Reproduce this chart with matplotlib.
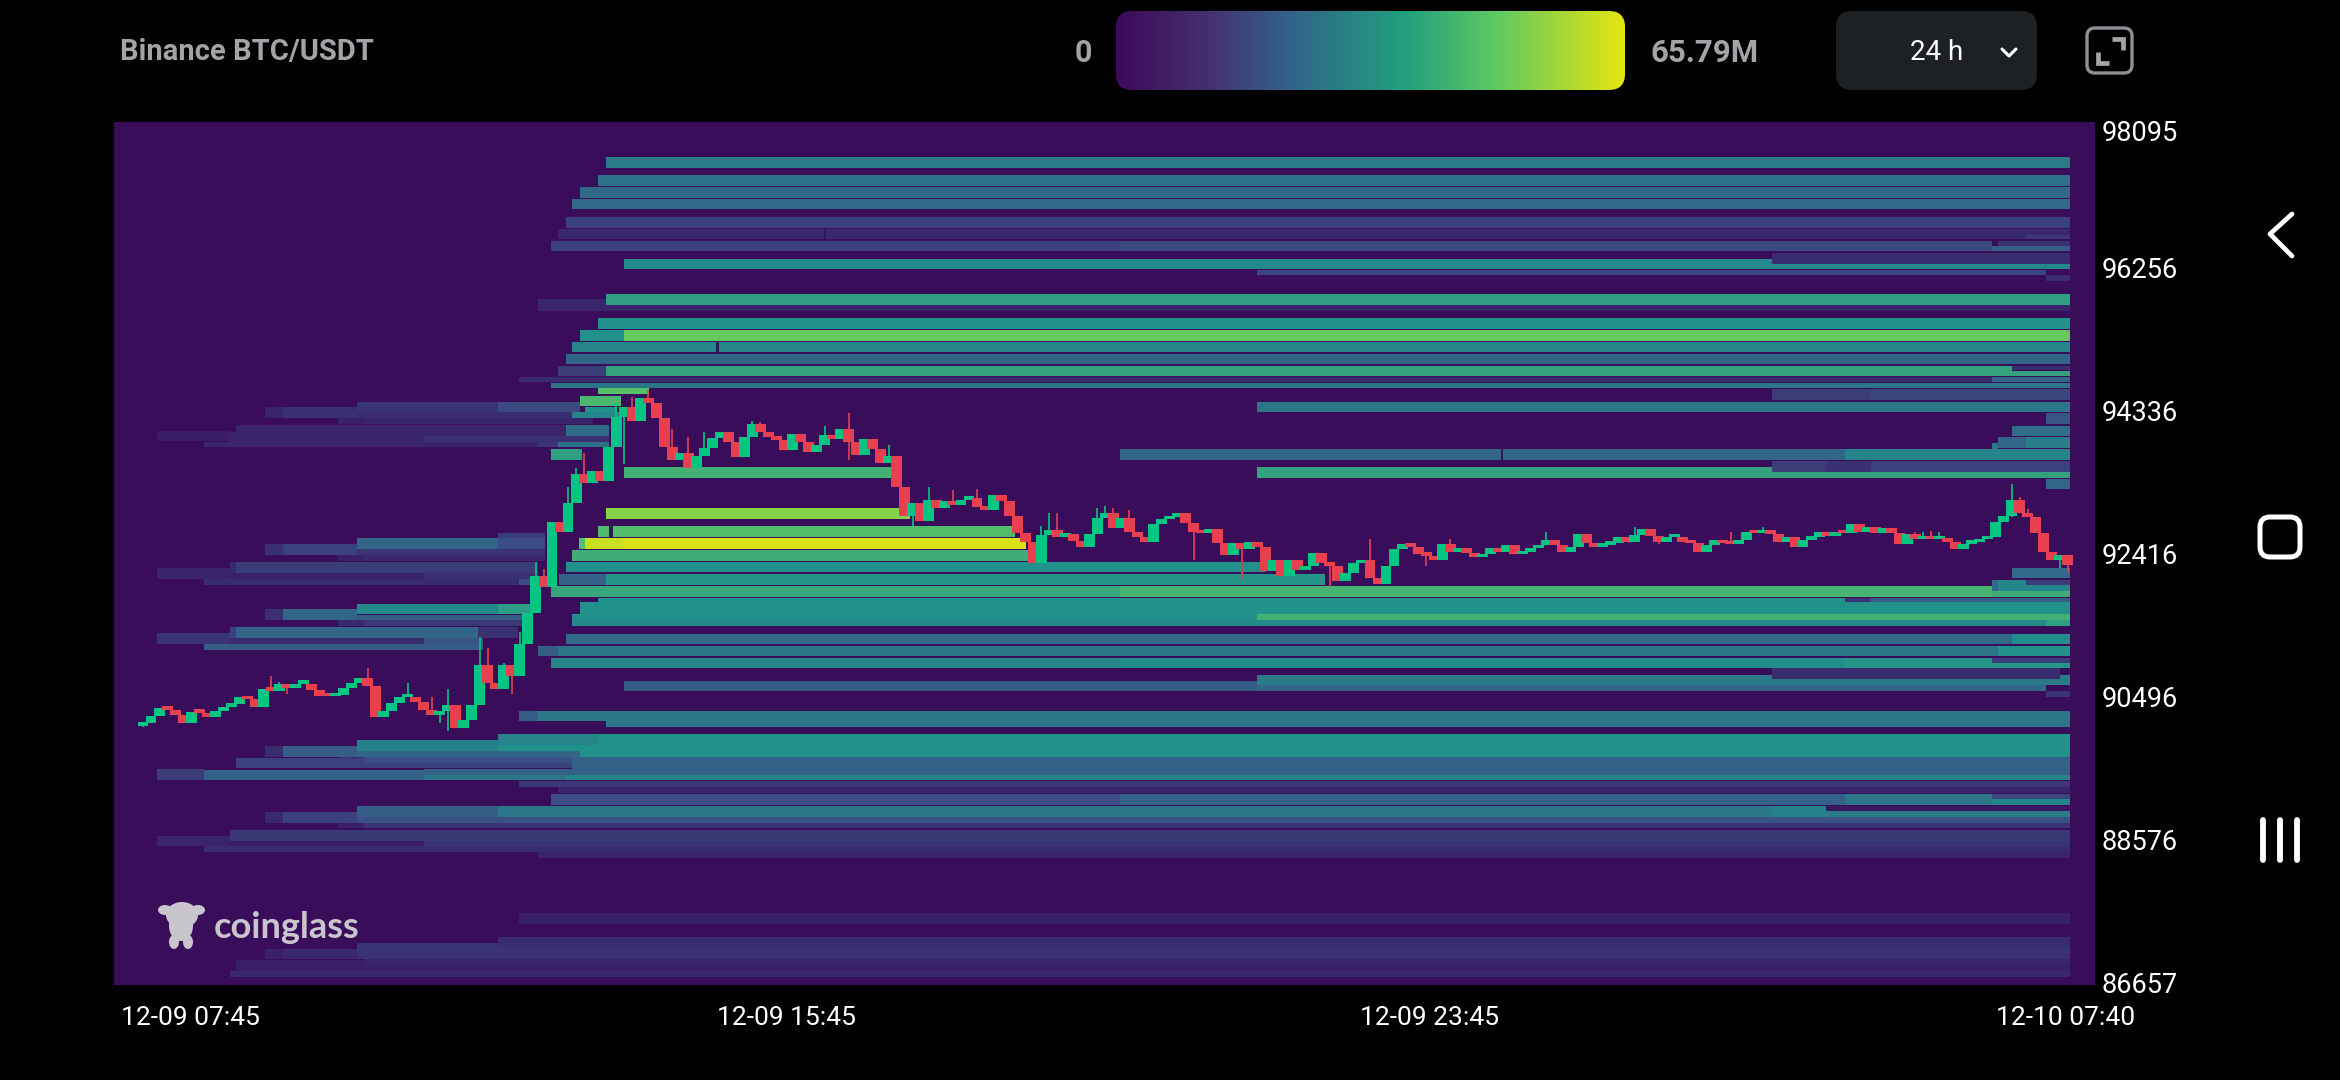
import numpy as np
import matplotlib
matplotlib.use("Agg")
import matplotlib.pyplot as plt
from matplotlib.colors import LinearSegmentedColormap, Normalize
from matplotlib.patches import FancyBboxPatch, Ellipse
from matplotlib.transforms import ScaledTranslation

plt.rcParams['font.family'] = ['Roboto', 'DejaVu Sans']

TITLE = "Binance BTC/USDT"
SCALE_MIN = "0"
SCALE_MAX = "65.79M"
RANGE = "24 h"
MAX_M = 65.79
price_ticks = [98095, 96256, 94336, 92416, 90496, 88576, 86657]
time_ticks = [0, 8, 16, 23.92]
time_labels = ["12-09 07:45", "12-09 15:45", "12-09 23:45", "12-10 07:40"]

E = 23.97
# liquidation bands: price top, price bottom, start hour, end hour, value (M)
bands_upper = [
    (97740,97597,5.76,E,27),(97498,97355,5.66,E,25),(97337,97194,5.44,E,23),(97176,97041,5.34,E,23),
    (96934,96795,5.26,E,13),(96773,96638,5.16,E,7),(96700,96638,23.42,E,11),
    (96611,96477,5.07,12.15,13),(96611,96477,12.15,23.0,15),(96611,96547,23.07,E,10),(96547,96477,23.0,E,20),
    (96374,96235,5.98,20.26,31),(96307,96235,20.26,E,31),(96450,96307,20.26,E,8),
    (96226,96159,13.86,23.67,14),(96159,96083,23.67,E,8),
    (95899,95756,5.76,E,37),(95830,95756,4.91,5.76,6),(95756,95680,4.91,E,6),
    (95576,95437,5.66,E,33),(95420,95276,5.44,5.98,33),(95420,95276,5.98,E,50),
    (95258,95119,5.34,E,30),(95097,94958,5.26,E,22),
    (94936,94801,5.16,5.76,12),(94936,94801,5.76,23.25,38),(94936,94880,23.25,E,8),(94870,94801,23.25,E,38),
    (94792,94721,4.68,23.0,7),(94792,94721,23.0,E,22),(94712,94640,5.07,E,26),
    (94622,94479,20.26,21.49,12),(94622,94479,21.49,E,14),(94457,94322,13.86,E,26),
]
bands_peak = [
    (94636,94560,5.66,6.3,47),(94537,94398,5.44,5.95,44),
    (94457,94318,2.66,4.42,10),(94457,94318,4.42,5.44,15),(94390,94318,5.5,5.9,33),
    (94380,94241,1.52,1.74,6),(94380,94241,1.74,2.66,9),(94313,94241,2.66,5.34,8),(94313,94241,5.34,5.95,30),
    (94233,94160,2.43,2.75,5),(94233,94160,2.75,5.6,6),
    (94139,94000,1.16,5.26,6),(94139,94000,5.26,5.8,24),
    (94062,93923,0.17,1.08,4),(94053,93919,1.08,3.5,6),(94000,93919,3.5,5.8,9),
    (93919,93843,0.76,4.91,6),(93919,93843,4.91,5.16,10),(93919,93843,5.16,5.8,25),
    (93816,93677,5.07,5.46,37),
    (94300,94156,23.67,E,18),(94134,94000,23.25,E,24),(93986,93829,23.42,E,28),(93986,93829,23.07,23.42,22),
    (93896,93762,23.0,23.07,26),(93816,93677,12.15,21.17,22),(93816,93677,21.17,E,30),
    (93663,93516,20.26,20.93,12),(93663,93516,20.93,21.49,9),(93663,93516,21.49,E,13),
    (93578,93435,5.98,9.44,42),(93578,93435,13.86,20.26,38),(93511,93435,20.26,E,38),(93417,93278,23.67,E,22),
]
bands_hot = [
    (93023,92879,5.76,9.54,54),(92785,92642,5.66,5.80,45),(92785,92642,5.82,10.85,46),
    (92629,92476,5.42,5.5,47),(92629,92476,5.5,5.98,62),(92629,92476,5.97,10.98,64),
    (92458,92319,5.34,11.06,41),(92302,92163,5.26,13.97,33),
    (92140,91997,5.17,5.76,21),(92140,91997,5.76,14.70,34),
    (91979,91835,5.07,12.15,39),(91979,91835,12.15,23.0,43),(91917,91835,23.0,E,41),
    (92060,91917,23.0,23.07,23),(92060,91917,23.07,23.42,30),(92060,91993,23.42,E,12),(91993,91917,23.42,E,30),
    (92221,92083,23.25,E,23),
]
bands_left = [
    (92696,92552,4.42,5.0,12),(92620,92476,2.66,4.42,22),(92620,92476,4.42,5.0,16),
    (92543,92400,1.52,1.74,9),(92543,92400,1.74,2.66,13),(92476,92400,2.66,5.0,10),
    (92396,92319,2.43,2.75,5),(92396,92319,2.75,5.0,7),
    (92297,92158,1.08,1.16,7),(92297,92158,1.16,4.91,12),(92216,92073,0.17,1.08,6),
    (92149,92073,1.08,3.5,5),(92149,92073,3.5,4.91,9),(92073,91992,0.76,4.68,8),(92073,91992,4.68,4.91,16),
    (91737,91598,2.66,4.42,31),(91737,91598,4.42,4.82,36),(91665,91522,1.52,1.74,9),(91665,91522,1.74,2.66,22),
    (91589,91522,2.66,4.8,20),(91522,91441,2.43,2.75,7),(91522,91441,2.75,4.8,11),
    (91423,91280,1.08,1.16,13),(91423,91280,1.16,4.17,22),(91423,91280,4.17,4.66,9),
    (91343,91199,0.17,1.08,10),(91276,91199,1.08,3.5,8),(91276,91199,3.5,4.23,18),(91199,91119,0.76,4.23,20),
]
bands_mid = [
    (91823,91760,5.66,21.17,33),(91823,91760,21.17,21.49,10),(91823,91760,21.49,E,20),
    (91760,91599,5.44,E,33),(91599,91523,5.34,13.86,33),(91599,91523,13.86,E,42),
    (91523,91442,5.34,23.67,31),(91523,91442,23.67,E,37),
    (91339,91200,5.26,23.25,23),(91339,91200,23.25,E,32),
    (91178,91039,4.91,5.16,20),(91178,91039,5.16,23.07,26),(91178,91039,23.07,E,33),
    (91016,90882,5.07,12.15,30),(91016,90882,12.15,21.17,32),(91016,90882,21.17,23.0,34),
    (91016,90945,23.0,E,12),(90945,90882,23.0,E,34),
    (90873,90725,20.26,23.84,8),(90783,90707,13.86,20.26,27),
    (90707,90564,5.98,13.86,20),(90707,90564,13.86,23.67,22),
    (90725,90645,20.26,E,27),(90707,90645,13.86,20.26,27),(90564,90484,23.67,E,10),(90783,90645,23.84,E,27),
    (90303,90165,4.68,4.91,20),(90303,90165,4.91,E,26),(90165,90084,5.76,E,26),
]
bands_lower = [
    (89985,89846,4.42,5.66,30),(89985,89846,5.66,E,33),(89909,89766,2.66,4.42,29),(89846,89766,4.42,E,33),
    (89828,89685,1.52,1.74,8),(89828,89685,1.74,2.66,20),(89766,89685,2.66,5.44,22),(89766,89685,5.44,E,33),
    (89685,89605,2.43,2.75,8),(89685,89605,2.75,5.34,17),(89685,89516,5.34,E,21),
    (89663,89528,1.16,2.75,13),(89605,89528,2.75,5.34,13),
    (89520,89372,0.17,0.76,12),(89506,89372,0.76,3.5,21),(89515,89443,3.5,E,21),
    (89443,89367,3.5,5.26,26),(89443,89367,5.26,E,30),(89358,89282,4.68,E,11),(89274,89193,5.16,E,6),
    (89180,89036,5.07,12.15,16),(89180,89036,12.15,21.17,21),(89180,89036,21.17,23.0,26),
    (89180,89117,23.0,E,14),(89117,89036,23.0,E,30),
    (89023,88879,2.66,4.42,20),(89023,88879,4.42,20.26,26),(89023,88879,20.26,20.93,29),
    (89023,88960,20.93,E,3),(88960,88879,20.93,E,27),
    (88937,88798,1.52,1.74,7),(88937,88798,1.74,2.66,13),(88879,88799,2.66,E,17),
    (88798,88722,2.43,2.75,5),(88798,88722,2.75,E,10),
    (88700,88557,1.08,E,11),(88619,88485,0.17,1.08,6),(88556,88485,1.08,3.5,4),(88556,88485,3.5,E,10),
    (88485,88404,0.76,E,8),(88404,88323,4.91,E,6),
    (87580,87436,4.68,E,5),(87266,87123,4.42,E,8),(87185,87042,2.66,4.42,10),
    (87100,86961,1.52,1.74,5),(87100,86961,1.74,2.66,7),(87123,87042,4.42,E,10),(87042,86961,2.66,E,9),
    (86961,86885,2.75,E,6),(86955,86830,1.16,2.75,5),(86885,86809,1.16,E,5),(86809,86729,1.08,E,7),
]
# short breaks in a band: hour, price top, price bottom
band_breaks = [(7.13,95258,95119),(16.89,93816,93677),(8.47,96773,96638),(5.81,92785,92642)]

first_open = 90098
closes = [
 90134,90232,90335,90313,90246,90143,90290,90277,90214,90304,90358,90393,90483,90456,90358,90591,90573,90658,90604,90662,
 90668,90582,90501,90497,90514,90604,90671,90738,90635,90214,90304,90402,90483,90492,90425,90313,90246,90304,90380,90075,
 90178,90380,90918,90671,90591,90918,90770,91195,91612,92114,91970,92844,92709,93099,93484,93359,93529,93390,93843,94255,
 94389,94197,94510,94434,94232,93843,93672,93762,93560,93726,93838,93973,94053,93919,93708,93977,94156,94053,93977,93941,
 93807,94017,93919,93775,93874,94008,93950,94085,93919,93740,93950,93816,93628,93726,93314,92924,93099,92857,93135,93023,
 93126,93068,93135,93157,93045,93000,93202,93126,92924,92687,92575,92293,92665,92732,92642,92674,92589,92508,92674,92889,
 92956,92754,92889,92710,92642,92575,92813,92875,92911,92965,92822,92710,92687,92741,92553,92396,92553,92472,92566,92508,
 92185,92329,92114,92329,92194,92248,92427,92293,92248,92047,92159,92284,92329,92082,92006,92248,92472,92539,92508,92409,
 92383,92329,92539,92441,92486,92427,92365,92409,92486,92441,92530,92405,92436,92486,92530,92598,92530,92432,92508,92674,
 92553,92508,92530,92553,92633,92575,92665,92741,92651,92566,92633,92640,92575,92553,92432,92530,92598,92553,92539,92598,
 92710,92687,92710,92678,92575,92642,92508,92598,92642,92710,92651,92710,92687,92813,92710,92777,92687,92754,92687,92539,
 92678,92607,92620,92607,92620,92575,92472,92544,92566,92607,92633,92844,92920,93135,92965,92902,92687,92432,92329,92396,
 92262]
wick_high_idx = [16,17,28,33,36,38,42,43,47,45,49,50,53,54,55,59,61,63,66,68,70,76,77,85,88,93,95,98,101,104,112,113,114,119,120,121,123,153,163,175,186,198,202,221,222,223,224,233,234,235]
wick_high_val = [90770,90690,90873,90671,90492,90591,91298,91151,91366,90940,92300,92203,93314,93560,93771,94434,94515,94613,94085,93977,94053,94201,94188,94129,94300,93874,93230,93305,93269,93278,92785,92956,92956,93023,93059,93023,92998,92607,92607,92710,92777,92710,92777,92710,92710,92720,92700,93350,93170,93020]
wick_low_idx = [0,18,37,38,46,60,88,96,137,131,148,160,189,233,235,239,240]
wick_low_val = [90080,90530,90143,90035,90530,93620,93670,92785,92069,92330,91970,92248,92540,92900,92925,92217,92150]
n_candles = len(closes)
span_hours = 23.94

BG = '#3a0d5a'
cmap = LinearSegmentedColormap.from_list('heat', [(0,BG),(.25,'#3b4f85'),(.5,'#21918c'),(.75,'#5ec962'),(1,'#e5e510')])
scale_cmap = LinearSegmentedColormap.from_list('scale', [(0,'#3f0a5c'),(.18,'#44306f'),(.33,'#33608a'),(.57,'#22a07f'),(.75,'#5ec962'),(.92,'#bcdc2a'),(1,'#e5e510')])
norm = Normalize(0, MAX_M)
UP, DOWN = '#04c682', '#e8404e'

W, H = 2340, 1080
fig = plt.figure(figsize=(W/100, H/100), dpi=100, facecolor='black')
ax = fig.add_axes([114/W, 1-985/H, (2095-114)/W, (985-122)/H], facecolor=BG)
ax.set_xlim(-0.3607, 24.28)
ax.set_ylim(86617, 98215)
for s in ax.spines.values():
    s.set_visible(False)

rows = np.array(bands_upper + bands_peak + bands_hot + bands_left + bands_mid + bands_lower, dtype=float)
ax.barh(rows[:,1], rows[:,3]-rows[:,2], height=rows[:,0]-rows[:,1], left=rows[:,2], align='edge',
        color=cmap(norm(rows[:,4])), linewidth=0, zorder=2)
br = np.array(band_breaks)
ax.barh(br[:,2], 0.03, height=br[:,1]-br[:,2], left=br[:,0], align='edge', color='#2a1b55', linewidth=0, zorder=3)

# candles
t = np.arange(n_candles)*span_hours/(n_candles-1)
c = np.array(closes, float)
o = np.r_[first_open, c[:-1]]
is_up = c >= o
cols = np.where(is_up, UP, DOWN)
ax.vlines(t[wick_high_idx], np.maximum(o,c)[wick_high_idx], wick_high_val, colors=cols[wick_high_idx], lw=1.2, zorder=4)
ax.vlines(t[wick_low_idx], np.minimum(o,c)[wick_low_idx], wick_low_val, colors=cols[wick_low_idx], lw=1.2, zorder=4)
body = np.maximum(np.abs(c-o), 50)
ax.bar(t, body, bottom=np.minimum(o,c), width=0.136, color=cols, linewidth=0, align='center', zorder=5)

ax.yaxis.tick_right()
ax.set_yticks(price_ticks)
ax.set_yticklabels([str(p) for p in price_ticks])
ax.tick_params(axis='y', length=0, pad=5, labelsize=19.5, labelcolor='white')
ax.set_xticks(time_ticks)
ax.set_xticklabels(time_labels)
ax.tick_params(axis='x', length=0, pad=15, labelsize=19, labelcolor='white')
labs = ax.get_xticklabels()
labs[0].set_ha('left')
labs[0].set_transform(labs[0].get_transform() + ScaledTranslation(-22/100, 0, fig.dpi_scale_trans))

# page furniture, positioned in pixels
ov = fig.add_axes([0, 0, 1, 1], facecolor='none', zorder=10)
ov.set_xlim(0, W); ov.set_ylim(H, 0); ov.axis('off')
GREY = '#a3a3a8'
ov.text(120, 52, TITLE, color=GREY, fontsize=21, fontweight='bold', va='center', ha='left')
ov.text(1092, 53, SCALE_MIN, color=GREY, fontsize=22, fontweight='bold', va='center', ha='right')
ov.text(1650, 53, SCALE_MAX, color=GREY, fontsize=22.5, fontweight='bold', va='center', ha='left')
grad = np.linspace(0, 1, 510)[None, :]
im = ov.imshow(grad, cmap=scale_cmap, extent=(1116, 1625, 90, 11), aspect='auto', zorder=2)
clip = FancyBboxPatch((1132, 27), 477, 47, boxstyle='round,pad=16,rounding_size=16', transform=ov.transData, fc='none', ec='none')
ov.add_patch(clip); im.set_clip_path(clip)
ov.set_xlim(0, W); ov.set_ylim(H, 0)
ov.add_patch(FancyBboxPatch((1852, 27), 169, 47, boxstyle='round,pad=16,rounding_size=16', fc='#1e2124', ec='none'))
ov.text(1937, 52, RANGE, color='white', fontsize=20, va='center', ha='center')
ov.plot([2002, 2009, 2016], [49, 56, 49], color='white', lw=2.2, solid_capstyle='round')
# expand icon
ov.add_patch(FancyBboxPatch((2095, 36), 29, 29, boxstyle='round,pad=8,rounding_size=8', fc='none', ec='#8f8f96', lw=2.4))
ov.plot([2112, 2123, 2123], [39, 39, 50], color=GREY, lw=3.4, solid_joinstyle='miter', solid_capstyle='butt')
ov.plot([2098, 2098, 2109], [52, 63, 63], color=GREY, lw=3.4, solid_joinstyle='miter', solid_capstyle='butt')
# navigation buttons
ov.plot([2292, 2270, 2292], [214, 234, 256], color='white', lw=3.4, solid_capstyle='round', solid_joinstyle='round')
ov.add_patch(FancyBboxPatch((2270, 527), 20, 20, boxstyle='round,pad=10,rounding_size=10', fc='none', ec='white', lw=3.6))
for xx in [2263, 2280, 2297]:
    ov.plot([xx, xx], [820, 860], color='white', lw=4.2, solid_capstyle='round')
# watermark
LOGO = '#c9c5cc'
ov.text(214, 927, 'coinglass', color=LOGO, fontsize=26, fontweight='bold', family=['Lato', 'DejaVu Sans'], va='center', ha='left')
for cx, cy, w_, h_ in [(182,915,32,26),(181,926,24,30),(174,942,10,14),(188,942,10,14),(165,910,14,10),(198,910,14,10)]:
    ov.add_patch(Ellipse((cx, cy), w_, h_, fc=LOGO, ec='none'))

fig.savefig('out.png', dpi=100, facecolor='black')
